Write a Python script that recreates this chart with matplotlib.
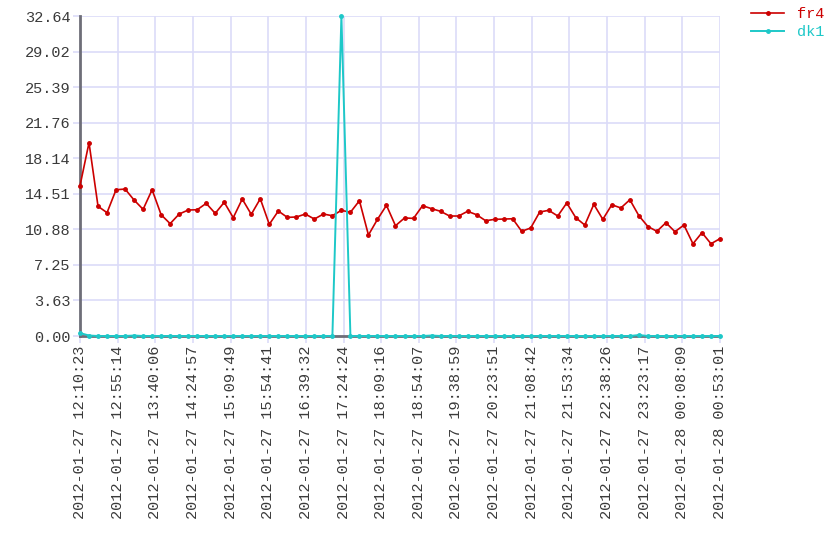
import datetime as dt
import numpy as np
import matplotlib
matplotlib.use("Agg")
import matplotlib.pyplot as plt
import matplotlib.dates as mdates

# data
start = dt.datetime(2012, 1, 27, 12, 10, 23)
end = dt.datetime(2012, 1, 28, 0, 53, 1)

fr4 = [15.33, 19.72, 13.23, 12.58, 14.92, 14.99, 13.87, 12.92, 14.92, 12.37,
       11.46, 12.44, 12.85, 12.88, 13.53, 12.51, 13.64, 12.07, 13.97, 12.41,
       14.00, 11.39, 12.75, 12.10, 12.14, 12.44, 11.93, 12.44, 12.27, 12.82,
       12.62, 13.80, 10.30, 11.90, 13.33, 11.25, 12.04, 12.00, 13.29, 12.99,
       12.72, 12.24, 12.24, 12.72, 12.37, 11.76, 11.90, 11.93, 11.96, 10.68,
       11.02, 12.65, 12.82, 12.24, 13.57, 12.07, 11.32, 13.43, 11.90, 13.39,
       13.06, 13.90, 12.27, 11.17, 10.68, 11.56, 10.64, 11.32, 9.41, 10.54,
       9.41, 9.93]

dk1 = [0.30, 0.05, 0.0, 0.0, 0.0, 0.0, 0.05, 0.0, 0.0, 0.0,
       0.0, 0.0, 0.0, 0.0, 0.0, 0.0, 0.0, 0.0, 0.0, 0.0,
       0.0, 0.0, 0.0, 0.0, 0.0, 0.0, 0.0, 0.0, 0.0, 32.644,
       0.0, 0.0, 0.0, 0.0, 0.0, 0.0, 0.0, 0.0, 0.0, 0.05,
       0.0, 0.0, 0.0, 0.0, 0.0, 0.0, 0.0, 0.0, 0.0, 0.0,
       0.0, 0.0, 0.0, 0.0, 0.0, 0.0, 0.0, 0.0, 0.0, 0.0,
       0.0, 0.0, 0.10, 0.0, 0.0, 0.0, 0.0, 0.0, 0.0, 0.0,
       0.0, 0.0]

ymax = 32.644
n_xticks = 18
n_yticks = 10

span = (end - start).total_seconds()
times = [start + dt.timedelta(seconds=span * i / (len(fr4) - 1)) for i in range(len(fr4))]
xticks = [start + dt.timedelta(seconds=span * i / (n_xticks - 1)) for i in range(n_xticks)]
yticks = np.linspace(0, ymax, n_yticks)

plt.rcParams['font.family'] = ['Liberation Mono', 'DejaVu Sans Mono']

fig = plt.figure(figsize=(8.4, 5.6), dpi=100)
ax = fig.add_axes([80/840, 1 - 336/560, 640/840, 320/560])

grid_c = '#dcdcf8'
ax.plot(times, fr4, color='#cc0000', lw=1.2, marker='o', ms=2.5, label='fr4', clip_on=False, zorder=3)
ax.plot(times, dk1, color='#1ec8c8', lw=1.4, marker='o', ms=2.5, label='dk1', clip_on=False, zorder=4)

ax.set_xlim(start, end)
ax.set_ylim(0, ymax)
ax.set_xticks(xticks)
ax.set_yticks(yticks)
ax.xaxis.set_major_formatter(mdates.DateFormatter('%Y-%m-%d %H:%M:%S'))
ax.yaxis.set_major_formatter(plt.FormatStrFormatter('%.2f'))
ax.grid(True, color=grid_c, lw=1.2)
ax.set_axisbelow(True)

for s in ['top', 'right']:
    ax.spines[s].set_visible(False)
for s in ['left', 'bottom']:
    ax.spines[s].set_color('#6e6e78')
    ax.spines[s].set_linewidth(2)
    ax.spines[s].set_zorder(2)

ax.tick_params(axis='both', colors=grid_c, length=5, width=1.2, labelsize=11,
               labelcolor='#3a3a3a', pad=2)
ax.tick_params(axis='x', labelrotation=90)

leg = fig.legend(loc='upper left', bbox_to_anchor=(737/840, 1.012), frameon=False,
                 fontsize=11, handlelength=2.2, labelspacing=0.25)
for text, line in zip(leg.get_texts(), leg.get_lines()):
    text.set_color(line.get_color())

fig.savefig('out.png', dpi=100)
